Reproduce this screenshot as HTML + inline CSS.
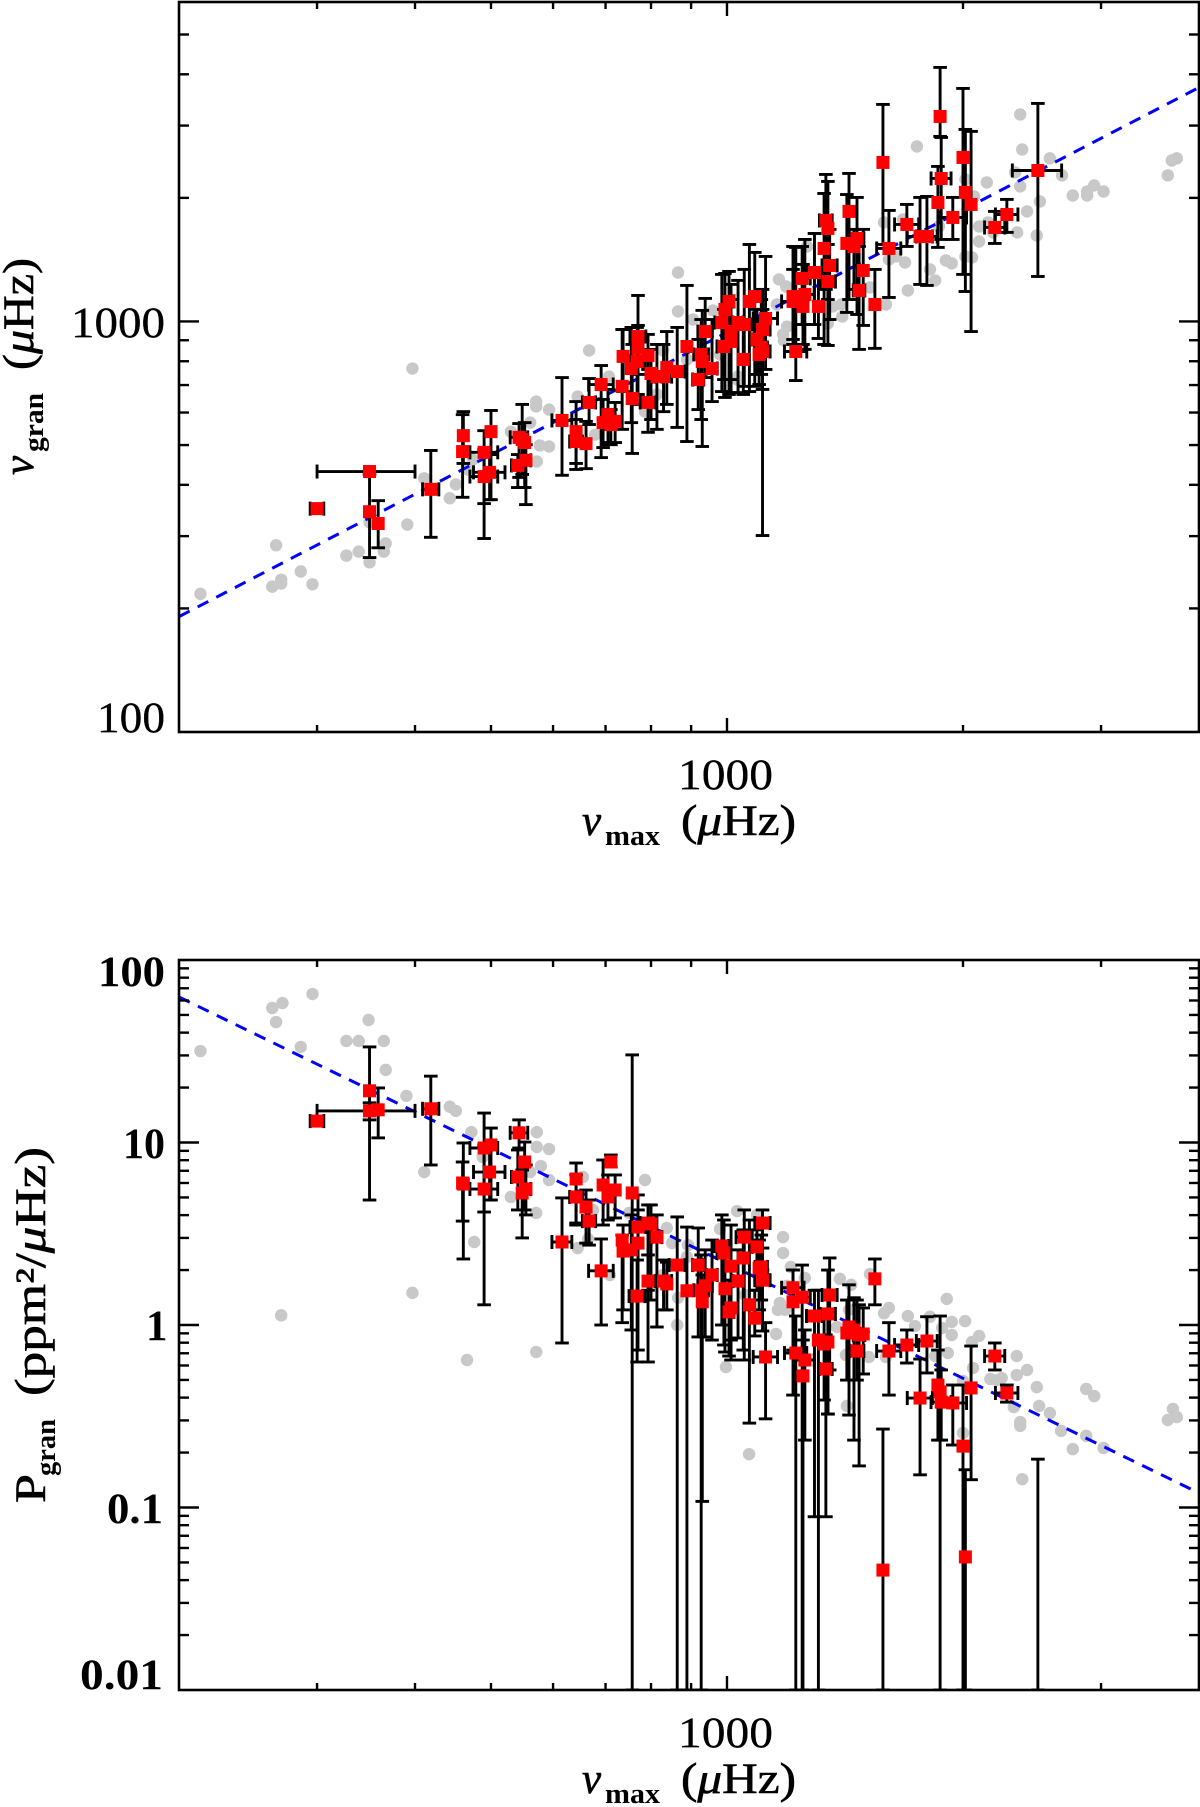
<!DOCTYPE html>
<html lang="en">
<head>
<meta charset="utf-8">
<title>Granulation scaling with vmax</title>
<style>
  html,body{margin:0;padding:0;background:#fff;}
  svg{display:block;}
  text{font-family:"Liberation Serif",serif;fill:#000;}
  .tick{font-size:43px;stroke:#000;stroke-width:.3px;}
  .tickb{font-size:43px;font-weight:bold;}
  .lab{font-size:43px;stroke:#000;stroke-width:.6px;}
  .sub{font-size:28px;font-weight:bold;}
</style>
</head>
<body>
<svg xmlns="http://www.w3.org/2000/svg" width="1200" height="1807" viewBox="0 0 1200 1807">
  <defs>
    <clipPath id="clip-top"><rect x="179" y="2" width="1020" height="730"/></clipPath>
    <clipPath id="clip-bottom"><rect x="179" y="960" width="1020" height="730"/></clipPath>
  </defs>
  <rect x="0" y="0" width="1200" height="1807" fill="#fff"/>

  <g id="top-panel">
    <g id="top-marks" clip-path="url(#clip-top)"></g>
    <rect x="179" y="2" width="1020" height="730" fill="none" stroke="#000" stroke-width="2.6"/>
    <g id="top-ticks"></g>
    <text class="tick" x="71" y="337" textLength="94" lengthAdjust="spacingAndGlyphs">1000</text>
    <text class="tick" x="97" y="732" textLength="68" lengthAdjust="spacingAndGlyphs">100</text>
    <text class="tick" x="678" y="789" textLength="95" lengthAdjust="spacingAndGlyphs">1000</text>
    <g>
      <text class="lab" x="582" y="835" font-style="italic">ν</text>
      <text class="sub" x="605" y="845" textLength="55" lengthAdjust="spacingAndGlyphs">max</text>
      <text class="lab" x="681" y="835" textLength="115" lengthAdjust="spacingAndGlyphs">(<tspan font-style="italic">μ</tspan>Hz)</text>
    </g>
    <g>
      <text class="lab" transform="translate(33,475) rotate(-90)" font-style="italic">ν</text>
      <text class="sub" transform="translate(43,452) rotate(-90)" textLength="59" lengthAdjust="spacingAndGlyphs">gran</text>
      <text class="lab" transform="translate(33,370) rotate(-90)" textLength="112" lengthAdjust="spacingAndGlyphs">(<tspan font-style="italic">μ</tspan>Hz)</text>
    </g>
  </g>

  <g id="bottom-panel">
    <g id="bottom-marks" clip-path="url(#clip-bottom)"></g>
    <rect x="179" y="960" width="1020" height="730" fill="none" stroke="#000" stroke-width="2.6"/>
    <g id="bottom-ticks"></g>
    <text class="tickb" x="98" y="986" textLength="67" lengthAdjust="spacingAndGlyphs">100</text>
    <text class="tickb" x="123" y="1158" textLength="42" lengthAdjust="spacingAndGlyphs">10</text>
    <text class="tickb" x="146" y="1340">1</text>
    <text class="tickb" x="107" y="1523" textLength="56" lengthAdjust="spacingAndGlyphs">0.1</text>
    <text class="tickb" x="80" y="1689" textLength="83" lengthAdjust="spacingAndGlyphs">0.01</text>
    <text class="tick" x="678" y="1747" textLength="95" lengthAdjust="spacingAndGlyphs">1000</text>
    <g>
      <text class="lab" x="582" y="1793" font-style="italic">ν</text>
      <text class="sub" x="605" y="1803" textLength="55" lengthAdjust="spacingAndGlyphs">max</text>
      <text class="lab" x="681" y="1793" textLength="115" lengthAdjust="spacingAndGlyphs">(<tspan font-style="italic">μ</tspan>Hz)</text>
    </g>
    <g>
      <text class="lab" transform="translate(45,1503) rotate(-90)" textLength="29" lengthAdjust="spacingAndGlyphs">P</text>
      <text class="sub" transform="translate(55,1476) rotate(-90)" textLength="57" lengthAdjust="spacingAndGlyphs">gran</text>
      <text class="lab" transform="translate(45,1396) rotate(-90)" textLength="249" lengthAdjust="spacingAndGlyphs">(ppm²/<tspan font-style="italic">μ</tspan>Hz)</text>
    </g>
  </g>
</svg>

<script>
// ---- stars with measured granulation (red) ----
const vmax = [
300,350,350,359,419,461,460,500,490,498,
490,543,552,541,554,548,616,642,642,661,
667,691,735,737,695,705,720,711,757,770,
770,768,755,793,793,800,814,830,838,864,
889,938,930,957,919,927,994,1006,985,1012,
1012,991,1033,1052,1049,1068,1085,1120,1110,1106,
1110,1092,1099,1224,1214,1257,1214,1247,1250,1293,
1308,1337,1345,1330,1352,1345,1431,1422,1465,1452,
1492,1474,1544,1581,1609,1696,1763,1799,1858,1876,
1870,1941,2000,2014,2048,2196,2275,2492];
const vmaxErr = [
6,50,0,0,10,0,0,0,20,23,
20,14,0,10,8,0,18,0,12,0,
13,25,0,0,0,0,0,0,0,18,
0,18,0,0,18,0,12,20,0,20,
0,20,0,15,15,20,0,15,20,0,
0,20,15,25,0,0,0,40,25,20,
25,15,0,40,0,35,40,30,0,30,
0,25,0,0,30,30,0,0,30,0,
0,25,0,0,57,60,65,55,0,55,
0,80,0,0,0,65,75,180];
const nuGran = [
350,431,344,322,390,527,482,539,480,429,
419,522,507,446,459,516,574,539,510,504,
635,702,695,822,567,593,571,561,649,919,
860,799,768,826,635,747,734,734,772,755,
869,945,799,768,722,831,1070,1119,994,945,
894,869,994,983,808,1119,1150,1017,956,864,
845,904,831,845,1150,1164,1119,1273,1088,1316,
1088,1762,1685,1506,1369,1251,1854,1549,1593,1523,
1331,1190,1100,2440,1506,1723,1611,1611,1949,2230,
3158,1792,2509,2063,1928,1694,1822,2332];
const nuGranHi = [
358,431,424,366,485,603,593,607,542,474,
488,564,567,474,501,628,730,638,577,571,
726,781,956,956,646,683,635,610,879,1157,
978,967,967,930,764,855,879,879,945,967,
1224,1138,1064,1011,904,1011,1309,1324,1302,1231,
1131,1070,1259,1339,956,1540,1473,1440,1197,1131,
1070,1070,1011,1515,1523,1584,1339,1523,1377,1638,
1339,2281,2193,2050,1676,1540,2294,2038,2005,1676,
1676,1523,1339,3378,1864,1928,2005,2016,2386,2807,
4157,2005,3695,2936,2904,1854,1983,3397];
const nuGranLo = [
342,431,266,281,298,451,373,368,360,368,
296,417,394,394,358,424,422,451,436,438,
561,466,546,675,493,507,507,501,477,743,
664,628,567,653,537,577,546,603,628,552,
510,730,496,638,610,577,653,664,675,671,
722,722,671,695,664,675,695,764,683,743,
301,743,702,718,904,855,879,983,879,983,
909,1197,1131,879,1011,874,1131,1052,1040,1197,
978,855,860,1540,1144,1523,1231,1224,1515,1584,
2823,1584,1302,1183,945,1549,1648,1287];
const pGran = [
13.1,14.9,19.2,15.1,15.3,5.92,6.0,9.69,9.33,6.89,
5.56,11.3,7.82,6.47,5.56,5.29,2.85,6.31,5.03,4.43,
3.71,1.98,2.92,2.54,5.85,5.03,5.49,7.82,5.29,3.44,
2.81,1.44,2.58,1.74,3.62,3.58,3.03,1.74,1.68,2.13,
1.54,1.64,1.34,1.88,2.13,1.55,1.58,1.18,2.71,1.24,
2.10,2.48,1.74,3.03,2.33,1.29,1.09,.668,3.62,2.08,
1.76,2.68,2.05,.702,1.34,.643,1.60,1.42,.526,1.12,
.827,.574,.807,.787,1.46,1.15,.975,.904,.72,.939,
.893,.882,1.79,.0454,.72,.777,.398,.817,.469,.378,
.43,.374,.217,.0536,.452,.676,.424,.005];
const pGranHi = [
13.6,16.5,33.4,19.9,23.1,9.94,7.82,12.0,14.5,9.1,
9.69,13.3,10.06,9.1,7.53,7.07,4.97,7.72,6.64,5.49,
4.84,2.96,3.11,3.53,8.02,6.64,6.64,8.54,30.2,5.16,
4.27,2.27,4.01,2.42,4.55,4.55,4.01,2.27,2.21,3.91,
3.44,2.58,1.88,2.92,3.40,2.42,2.58,1.76,4.01,1.76,
3.53,3.76,2.58,4.27,3.32,3.76,1.55,1.03,4.27,3.11,
2.64,3.32,2.92,1.12,2.0,.939,2.0,2.13,.827,1.55,
1.55,.882,1.21,1.21,2.33,2.0,1.66,1.37,1.37,1.41,
1.24,1.29,2.30,.269,1.03,.939,.651,1.11,.729,.567,
1.12,.469,.469,.161,.767,.797,.469,.184];
const pGranLo = [
12.6,13.3,4.84,10.6,7.53,2.30,3.71,4.84,4.16,4.84,
1.29,9.33,4.27,4.27,4.01,3.0,.797,3.62,3.53,2.81,
2.74,1,1.03,1.21,3.53,3.76,3.86,7.34,.005,.729,
1.37,.627,.939,.627,1.55,1.37,.975,1.21,1.21,.005,
.005,.86,.108,.827,.86,.005,.711,.676,1,.643,
.827,.777,.849,.643,.729,.29,.871,.306,2.0,1.37,
.927,1.55,1.21,.005,.413,.234,.729,.005,.005,.089,
.005,.089,.325,.388,.567,.325,.321,.499,.499,.234,
.539,.169,1.29,.005,.413,.619,.151,.546,.234,.234,
.005,.22,.005,.005,.142,.567,.378,.005];

// ---- background sample (grey) ----
const greyVmaxTop = [213,263,266,270,270,286,296,327,339,350,350,365,367,391,397,411,443,451,467,474,
530,561,571,571,572,577,593,593,645,667,679,707,786,814,829,866,866,889,905,960,
980,1030,1033,1165,1190,1158,1193,1179,1182,1265,1345,1365,1399,1403,1522,1586,1595,1609,1642,1677,
1687,1701,1747,1815,1843,1864,1902,1935,2014,2014,2054,2066,2097,2097,2145,2152,2185,2331,2345,2366,
2366,2380,2414,2484,2507,2581,2675,2761,2880,2880,2940,3022,3650,3693,3748];
const greyNuTop = [217,226,285,230,235,246,229,269,275,324,259,275,288,320,768,415,371,401,436,461,
539,567,638,621,456,499,610,496,656,850,530,734,603,664,850,1316,1058,808,1011,1064,
831,722,734,1266,1217,1100,972,930,899,1523,989,1088,1100,1028,1210,1743,1100,1416,1440,1772,
1392,1190,2669,1339,1259,1704,1408,1385,2218,1440,1432,2016,1704,1566,2181,1743,1648,2307,1648,3193,
2133,2624,1854,1620,1960,2496,2269,2027,2073,2027,2145,2073,2269,2467,2496];
const greyVmaxBottom = [213,263,266,271,270,286,296,327,339,349,365,367,390,397,411,443,451,466,472,476,
488,530,561,571,571,572,572,579,593,593,645,655,665,675,709,750,786,829,838,851,
864,866,889,892,980,997,1030,1054,1067,1092,1155,1161,1168,1179,1179,1186,1193,1206,1257,1381,
1393,1418,1422,1431,1440,1517,1522,1586,1595,1609,1701,1737,1815,1843,1881,1907,1913,1935,1935,2000,
2000,2012,2054,2060,2097,2167,2209,2241,2322,2342,2342,2366,2366,2380,2414,2484,2501,2581,2668,2761,
2872,2872,2940,3022,3650,3705,3748];
const greyPBottom = [31.7,54.6,45.7,58.1,1.13,33.4,65.1,36.0,36.0,46.9,36.0,25.0,18.0,1.50,6.89,15.7,14.9,.643,11.4,2.85,
8.33,5.03,6.89,4.11,.711,11.4,9.45,7.43,9.21,6.23,2.64,6.47,2.96,4.27,1.88,4.11,6.23,1.88,3.40,2.81,
1,1.41,2.36,2.74,3.36,.589,4.21,1.46,.196,4.01,.893,1.21,1.32,3.03,2.48,1.21,1.64,2.08,1.81,.975,
1.79,.685,.36,1.21,1.66,.668,1.90,1.16,.668,1.24,1.12,.987,1.11,.676,.963,1.39,.702,1.04,.882,.493,
.256,1.05,.807,.581,.871,.506,.499,.512,.355,.676,.532,.294,.28,.143,.567,.457,.36,.329,.263,.209,
.446,.247,.408,.212,.302,.347,.313];

// ---- fitted relations (end points of the dashed lines) ----
const fitVmax = [200,4000];
const fitNu = [191,3715];
const fitP = [62.7,0.12];

// ---- axis ticks ----
const xDomain = [200,4000];
const nuDomain = [100,6000];
const pDomain = [0.01,100];
const xMinorTicks = [300,400,500,600,700,800,900,2000,3000];
const xMajorTicks = [1000];
const nuMinorTicks = [200,300,400,500,600,700,800,900,2000,3000,4000,5000];
const nuMajorTicks = [1000];
const pMinorTicks = [.02,.03,.04,.05,.06,.07,.08,.09,.2,.3,.4,.5,.6,.7,.8,.9,2,3,4,5,6,7,8,9,20,30,40,50,60,70,80,90];
const pMajorTicks = [.1,1,10];

const NS = 'http://www.w3.org/2000/svg';
const PLOT_L = 179, PLOT_R = 1199;
const TOP_T = 2, TOP_B = 732, BOT_T = 960, BOT_B = 1690;

function logScale(domain, r0, r1) {
  const a = Math.log10(domain[0]), b = Math.log10(domain[1]);
  return v => r0 + (Math.log10(v) - a) / (b - a) * (r1 - r0);
}
const xScale = logScale(xDomain, PLOT_L, PLOT_R);
const nuScale = logScale(nuDomain, TOP_B, TOP_T);
const pScale = logScale(pDomain, BOT_B, BOT_T);

function make(tag, attrs, parent) {
  const e = document.createElementNS(NS, tag);
  for (const k in attrs) e.setAttribute(k, attrs[k]);
  parent.appendChild(e);
  return e;
}
function stroke(x1, y1, x2, y2, w, parent) {
  return make('line', {x1: x1, y1: y1, x2: x2, y2: y2, stroke: '#000', 'stroke-width': w}, parent);
}

function drawTicks(parent, yScale, yTop, yBot, yMinor, yMajor) {
  const drawX = (v, len) => {
    const x = xScale(v);
    const b = stroke(x, yBot, x, yBot - len, 2.4, parent);
    
    
    const t = stroke(x, yTop, x, yTop + len, 2.4, parent);
    
    
  };
  const drawY = (v, len) => {
    const y = yScale(v);
    const l = stroke(PLOT_L, y, PLOT_L + len, y, 2.4, parent);
    
    
    const r = stroke(PLOT_R, y, PLOT_R - len, y, 2.4, parent);
    
    
  };
  xMinorTicks.forEach(v => drawX(v, 7));
  xMajorTicks.forEach(v => drawX(v, 14));
  yMinor.forEach(v => drawY(v, 10));
  yMajor.forEach(v => drawY(v, 20));
}

function drawPanel(parent, yScale, yBot, greyX, greyY, fitY, val, hi, lo) {
  // grey background sample
  greyX.forEach((gx, i) => {
    const c = make('circle', {cx: xScale(gx), cy: yScale(greyY[i]), r: 6.2, fill: '#c8c8c8'}, parent);
    
    
  });
  // fitted power law
  const fit = make('line', {
    x1: xScale(fitVmax[0]), y1: yScale(fitY[0]),
    x2: xScale(fitVmax[1]), y2: yScale(fitY[1]),
    stroke: '#0000ff', 'stroke-width': 3, 'stroke-dasharray': '12 9'
  }, parent);
  
  
  // error bars
  vmax.forEach((v, i) => {
    const x = xScale(v), y = yScale(val[i]);
    const yHi = yScale(hi[i]), yLo = Math.min(yScale(lo[i]), yBot);
    const bar = stroke(x, yHi, x, yLo, 2.9, parent);
    
    
    const capHi = stroke(x - 6.8, yHi, x + 6.8, yHi, 2.9, parent);
    
    
    const capLo = stroke(x - 6.8, yLo, x + 6.8, yLo, 2.9, parent);
    
    
    if (vmaxErr[i] > 0) {
      const xa = xScale(v - vmaxErr[i]), xb = xScale(v + vmaxErr[i]);
      const xBar = stroke(xa, y, xb, y, 2.9, parent);
      
      
      const capA = stroke(xa, y - 7, xa, y + 7, 2.9, parent);
      
      
      const capB = stroke(xb, y - 7, xb, y + 7, 2.9, parent);
      
      
    }
  });
  // red squares on top
  vmax.forEach((v, i) => {
    const s = make('rect', {x: xScale(v) - 6.5, y: yScale(val[i]) - 6.5, width: 13, height: 13, fill: '#ff0000'}, parent);
    
    
  });
}

drawPanel(document.getElementById('top-marks'), nuScale, TOP_B, greyVmaxTop, greyNuTop, fitNu, nuGran, nuGranHi, nuGranLo);
drawPanel(document.getElementById('bottom-marks'), pScale, BOT_B, greyVmaxBottom, greyPBottom, fitP, pGran, pGranHi, pGranLo);
drawTicks(document.getElementById('top-ticks'), nuScale, TOP_T, TOP_B, nuMinorTicks, nuMajorTicks);
drawTicks(document.getElementById('bottom-ticks'), pScale, BOT_T, BOT_B, pMinorTicks, pMajorTicks);
</script>
</body>
</html>
